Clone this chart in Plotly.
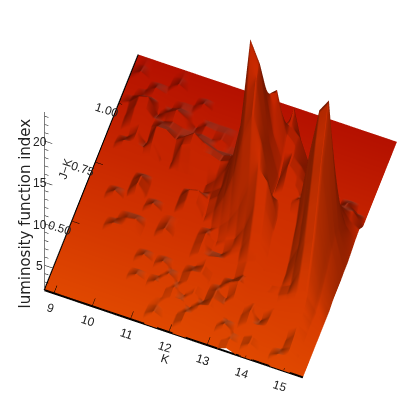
import plotly.graph_objects as go

K_VALUES = [8.75 + 0.25 * n for n in range(28)]
J_K_VALUES = [0.21 + 0.04 * n for n in range(26)]
Z_BASE = 2.0
HEIGHT_ROWS = [
 [0,0,0,0,0,0,0,0,0,0,0,0,0,0,0,0,0,0,0,.4,0,0,0,0,0,0,0,0],
 [0,0,0,0,0,0,0,0,0,0,0,.55,0,0,.6,0,0,0,0,.4,0,.55,0,0,.5,.5,0,0],
 [0,0,0,0,0,0,0,0,0,0,0,.2,0,0,.6,.4,.45,0,.7,0,0,.4,0,0,0,.6,0,0],
 [0,0,0,0,0,0,0,0,0,0,0,0,.4,.5,0,.7,.9,.4,0,0,.5,.6,.7,.45,0,.9,.2,0],
 [0,0,0,0,0,0,0,0,.5,0,.5,0,.5,0,.55,0,.8,.45,0,0,.8,0,.8,.7,.9,1.1,.3,0],
 [0,0,0,0,0,0,0,0,0,0,0,.6,0,.5,.45,0,.55,0,1,.5,.6,.6,.8,1.1,1.3,1.6,.5,0],
 [0,0,0,0,0,0,0,0,.6,0,.55,0,0,.6,.65,0,0,.8,1.3,.7,.8,1,1.1,1.6,2.2,2.5,.8,0],
 [0,0,0,0,0,0,0,0,0,0,0,0,0,0,.55,0,0,0,.9,1.1,1.1,.9,1.1,1.7,4,4.5,1.5,0],
 [0,0,0,0,.6,.55,.6,0,0,0,0,0,0,.45,.5,.7,.6,.8,1.5,2,1.1,1.3,1.2,3,6,7,2.2,.2],
 [0,0,0,0,0,.5,.7,0,0,.7,0,0,0,.6,0,0,.9,1.5,3.5,3.5,2,1.5,1.7,4,9,10,3,.2],
 [0,0,0,0,0,0,0,0,0,.3,0,0,0,.6,0,.7,1.2,3,6,6,3.5,3,3,6,12,13.5,4,.2],
 [0,0,0,.7,0,0,0,.7,0,0,0,0,0,0,.8,2,4,7,9,8,4,4,4,9,15,16,4.5,.3],
 [0,0,0,0,0,1.2,0,0,0,0,1,1.3,0,1,3,6,11,14,11,5,5,5,6,12,17.4,19,4,.3],
 [0,0,0,0,0,1,0,0,0,0,1.3,1.6,.7,1.6,4,8,15,17,10,5,6,6,5,10,14,12,3,.5],
 [0,0,0,0,0,0,0,0,0,0,0,0,.7,1.6,5,10,20.6,18,9,5,7,6,5,6,6,5,2,.7],
 [0,0,0,0,0,0,0,0,0,0,0,0,1,2.5,5,9,16,15,9,6,7,6,4,5,4,3,1.5,.8],
 [0,0,.7,.7,.6,1.5,0,0,2.4,2.8,2.4,2.4,2,2.5,4,6,9,12,13,8,7,5,3,2,1.5,1.5,1.5,0],
 [0,0,0,.9,0,2.4,2.4,1.5,2.4,3.2,2.4,2,1.6,2,3,4,5,7,8,8,7,4,2,1,0,1,0,0],
 [0,0,.7,.9,.7,1.5,1.5,1.1,1.1,1.5,1.1,.7,.7,.8,1.5,2,2.5,3.5,5,9,4,1.5,.6,0,0,0,0,0],
 [0,0,1.4,1.5,.7,.7,1.1,.7,.5,.7,.5,.8,.4,.4,.6,.8,.8,1.2,1.6,1.6,.8,0,0,0,0,0,0,0],
 [0,.4,1.5,1.8,0,.7,1.4,.7,0,.6,.4,.5,.2,.2,.3,.4,.4,.4,.4,0,0,0,0,0,0,0,0,0],
 [0,0,.4,.5,.3,0,.4,.3,.3,0,0,0,0,0,0,0,0,0,0,0,0,0,0,0,0,0,0,0],
 [0,0,0,.6,.25,0,0,0,.6,0,0,0,0,0,0,0,0,0,0,0,0,0,0,0,0,0,0,0],
 [0,.6,0,0,0,.6,0,0,0,0,0,0,0,0,0,0,0,0,0,0,0,0,0,0,0,0,0,0],
 [0,.2,0,0,0,.2,0,0,0,0,0,0,0,0,0,0,0,0,0,0,0,0,0,0,0,0,0,0],
 [0,0,0,0,0,0,0,0,0,0,0,0,0,0,0,0,0,0,0,0,0,0,0,0,0,0,0,0],
]
K_TICKS = [9, 10, 11, 12, 13, 14, 15]
J_K_TICKS = [0.5, 0.75, 1.0]
J_K_LABELS = ["0.50", "0.75", "1.00"]
Z_TICKS = list(range(3, 24))
Z_LABEL_TICKS = [5, 10, 15, 20]

K_MIN, K_MAX = K_VALUES[0], K_VALUES[-1]
JK_MIN, JK_MAX = J_K_VALUES[0], J_K_VALUES[-1]
Z_TOP = 23.5

z_rows = [[Z_BASE + h for h in row] for row in HEIGHT_ROWS]
colour_rows = [[jk for _ in K_VALUES] for jk in J_K_VALUES]

font = dict(family="Liberation Sans", size=12, color="#222")
hidden = dict(showbackground=False, showgrid=False, zeroline=False, showspikes=False,
              showline=False, ticks="", showticklabels=False, title=dict(text=""))

fig = go.Figure(go.Surface(
    x=K_VALUES, y=J_K_VALUES, z=z_rows, surfacecolor=colour_rows,
    colorscale=[[0, "#E04800"], [0.5, "#CC2C00"], [1, "#B41000"]], showscale=False,
    lighting=dict(ambient=0.55, diffuse=0.64, specular=0.08, roughness=0.5, fresnel=0.0),
    lightposition=dict(x=-3600, y=10000, z=-10000),
    contours=dict(x=dict(highlight=False), y=dict(highlight=False), z=dict(highlight=False)),
    hoverinfo="skip",
))

heavy_x, heavy_y, heavy_z = [K_MIN, K_MAX, None, K_MIN, K_MIN], [JK_MIN, JK_MIN, None, JK_MIN, JK_MAX], [Z_BASE, Z_BASE, None, Z_BASE, Z_BASE]
fig.add_trace(go.Scatter3d(x=heavy_x, y=heavy_y, z=heavy_z, mode="lines", line=dict(color="black", width=4), hoverinfo="skip"))
tx, ty, tz = [K_MIN, K_MIN, None], [JK_MIN, JK_MIN, None], [Z_BASE, Z_TOP, None]
for k in K_TICKS:
    tx += [k, k, None]; ty += [JK_MIN, JK_MIN + 0.03, None]; tz += [Z_BASE + .1, Z_BASE + .1, None]
for j in J_K_TICKS:
    tx += [K_MIN, K_MIN + 0.2, None]; ty += [j, j, None]; tz += [Z_BASE + .1, Z_BASE + .1, None]
for v in Z_TICKS:
    tx += [K_MIN, K_MIN + (0.2 if v % 5 == 0 else 0.1), None]; ty += [JK_MIN, JK_MIN, None]; tz += [v, v, None]
fig.add_trace(go.Scatter3d(x=tx, y=ty, z=tz, mode="lines", line=dict(color="black", width=1), hoverinfo="skip"))

ann = []
for k in K_TICKS:
    ann.append(dict(x=k, y=JK_MIN, z=Z_BASE, text=str(k), showarrow=False, textangle=18, font=font, xshift=-4, yshift=-15))
for j, t in zip(J_K_TICKS, J_K_LABELS):
    ann.append(dict(x=K_MIN, y=j, z=Z_BASE, text=t, showarrow=False, textangle=18, font=font, xshift=-12, yshift=-6))
for v in Z_LABEL_TICKS:
    ann.append(dict(x=K_MIN, y=JK_MIN, z=v, text=str(v), showarrow=False, font=font, xshift=-5, yshift=-1))
ann.append(dict(x=12.0, y=JK_MIN, z=Z_BASE, text="K", showarrow=False, textangle=18, font=font, xshift=-4, yshift=-27))
ann.append(dict(x=K_MIN, y=0.75, z=Z_BASE, text="J−K", showarrow=False, textangle=-72, font=font, xshift=-30, yshift=-6))
ann.append(dict(x=K_MIN, y=JK_MIN, z=11.2, text="luminosity function index", showarrow=False, textangle=-90,
                font=dict(family="DejaVu Sans", size=15, color="#222"), xshift=-20))

eye_dir = (0.167 * 4, -0.455 * 4, 1.136 * 4)
shift_x = -0.027
shift_z = -1.12
fig.update_layout(
    width=415, height=415, margin=dict(l=0, r=0, t=0, b=0),
    paper_bgcolor="white", showlegend=False,
    scene=dict(
        aspectmode="manual", aspectratio=dict(x=1.33, y=1.32, z=2.27),
        camera=dict(projection=dict(type="orthographic"),
                    eye=dict(x=eye_dir[0] + shift_x, y=eye_dir[1], z=eye_dir[2] + shift_z), up=dict(x=0, y=0, z=1),
                    center=dict(x=shift_x, y=0, z=shift_z)),
        xaxis=dict(hidden, range=[K_MIN - 0.01, K_MAX + 0.01]),
        yaxis=dict(hidden, range=[JK_MIN - 0.002, JK_MAX + 0.002]),
        zaxis=dict(hidden, range=[1.7, 24.0]),
        annotations=ann,
    ),
)
fig.write_html("out.html")
